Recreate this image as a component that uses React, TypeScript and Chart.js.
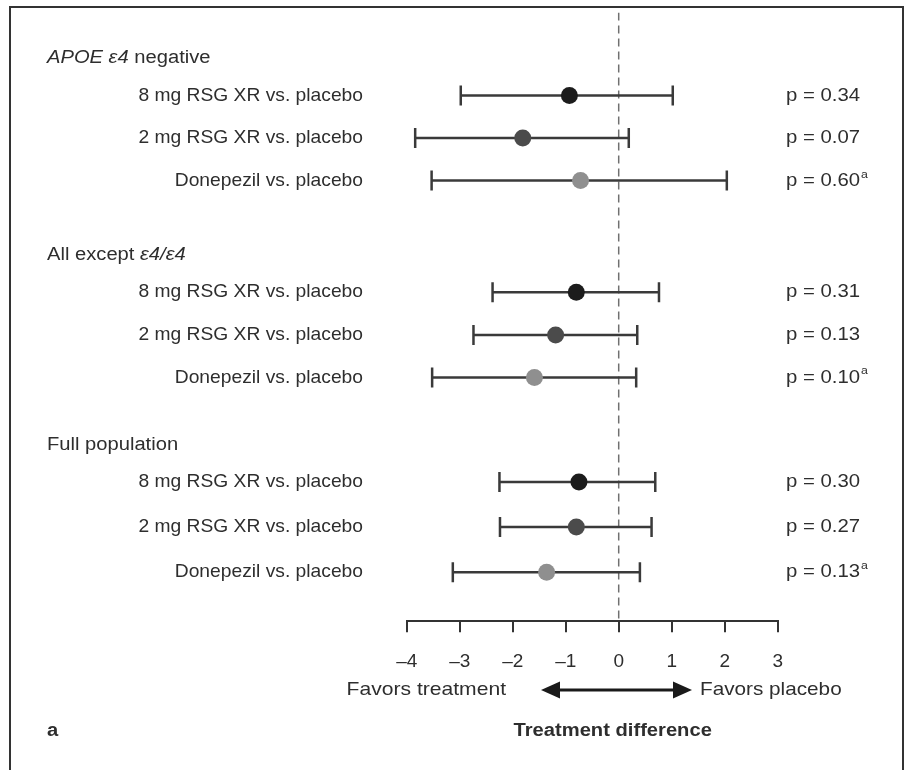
import { useEffect, useRef } from 'react';
import { Chart, registerables } from 'chart.js';

Chart.register(...registerables);

// ---------- data ----------
const groupHeaders = [
  [{ t: 'APOE ε4', i: true }, { t: ' negative', i: false }],
  [{ t: 'All except ', i: false }, { t: 'ε4/ε4', i: true }],
  [{ t: 'Full population', i: false }],
];
const comparisons = ['8 mg RSG XR vs. placebo', '2 mg RSG XR vs. placebo', 'Donepezil vs. placebo'];

// per comparison, values across the three groups
const rsg8Est = [-0.93, -0.8, -0.75];
const rsg8Lo = [-2.98, -2.38, -2.25];
const rsg8Hi = [1.02, 0.76, 0.69];
const rsg8P = ['0.34', '0.31', '0.30'];

const rsg2Est = [-1.81, -1.19, -0.8];
const rsg2Lo = [-3.84, -2.74, -2.24];
const rsg2Hi = [0.19, 0.35, 0.62];
const rsg2P = ['0.07', '0.13', '0.27'];

const donEst = [-0.72, -1.59, -1.36];
const donLo = [-3.53, -3.52, -3.13];
const donHi = [2.04, 0.33, 0.4];
const donP = ['0.60', '0.10', '0.13'];
const pFootnote = ['', '', 'a'];

const xTicks = [-4, -3, -2, -1, 0, 1, 2, 3];

// ---------- styling / layout ----------
const seriesColors = ['#1c1c1c', '#4b4b4b', '#8f8f8f'];
const ciColor = '#3a3a3a';
const textColor = '#2e2e2e';
const FONT = '"Liberation Sans", Arial, sans-serif';
const SX = 1.12;
const Y_MAX = 14.16;
const FIRST_ROW = [1.93, 6.51, 10.92];
const ROW_STEPS = [0.99, 0.99, 1.05];
const HEADER_OFFSET = 0.86;

const rowY = (g: number, i: number) => FIRST_ROW[g] + i * ROW_STEPS[g];

const est = [rsg8Est, rsg2Est, donEst];
const lo = [rsg8Lo, rsg2Lo, donLo];
const hi = [rsg8Hi, rsg2Hi, donHi];
const pv = [rsg8P, rsg2P, donP];

type Seg = { t: string; i?: boolean; b?: boolean };

function drawRich(ctx: CanvasRenderingContext2D, segs: Seg[], x: number, y: number, align: 'left' | 'right' | 'center', size: number, sx = SX) {
  const fontOf = (s: Seg) => `${s.i ? 'italic ' : ''}${s.b ? 'bold ' : ''}${size}px ${FONT}`;
  let total = 0;
  const widths = segs.map((s) => {
    ctx.font = fontOf(s);
    const w = ctx.measureText(s.t).width * sx;
    total += w;
    return w;
  });
  let cx = align === 'left' ? x : align === 'right' ? x - total : x - total / 2;
  ctx.textBaseline = 'middle';
  ctx.textAlign = 'left';
  segs.forEach((s, k) => {
    ctx.save();
    ctx.font = fontOf(s);
    ctx.translate(cx, y);
    ctx.scale(sx, 1);
    ctx.fillText(s.t, 0, 0);
    ctx.restore();
    cx += widths[k];
  });
  return cx;
}

const annotations = {
  id: 'forestText',
  afterDraw(chart: any) {
    const { ctx, scales } = chart;
    const ys = scales.y;
    const xs = scales.x;
    ctx.save();
    // frame
    ctx.strokeStyle = '#333';
    ctx.lineWidth = 2;
    ctx.beginPath();
    ctx.moveTo(10, 800);
    ctx.lineTo(10, 7);
    ctx.lineTo(903, 7);
    ctx.lineTo(903, 800);
    ctx.stroke();

    ctx.fillStyle = textColor;
    groupHeaders.forEach((segs, g) => {
      drawRich(ctx, segs, 47, ys.getPixelForValue(rowY(g, 0) - HEADER_OFFSET), 'left', 18);
      comparisons.forEach((label, i) => {
        const py = ys.getPixelForValue(rowY(g, i));
        drawRich(ctx, [{ t: label }], 363, py, 'right', 18.5, 1.04);
        const end = drawRich(ctx, [{ t: 'p = ' + pv[i][g] }], 786, py, 'left', 18.5, 1.1);
        if (pFootnote[i]) {
          drawRich(ctx, [{ t: pFootnote[i] }], end + 1, py - 6, 'left', 11);
        }
      });
    });

    // arrow
    const ay = 690;
    const x0 = 541;
    const x1 = 692;
    ctx.strokeStyle = '#1a1a1a';
    ctx.fillStyle = '#1a1a1a';
    ctx.lineWidth = 3;
    ctx.beginPath();
    ctx.moveTo(x0 + 10, ay);
    ctx.lineTo(x1 - 10, ay);
    ctx.stroke();
    ctx.beginPath();
    ctx.moveTo(x0, ay);
    ctx.lineTo(x0 + 19, ay - 8.5);
    ctx.lineTo(x0 + 19, ay + 8.5);
    ctx.closePath();
    ctx.fill();
    ctx.beginPath();
    ctx.moveTo(x1, ay);
    ctx.lineTo(x1 - 19, ay - 8.5);
    ctx.lineTo(x1 - 19, ay + 8.5);
    ctx.closePath();
    ctx.fill();

    ctx.fillStyle = textColor;
    drawRich(ctx, [{ t: 'Favors treatment' }], 506, ay, 'right', 18.5, 1.14);
    drawRich(ctx, [{ t: 'Favors placebo' }], 700, ay, 'left', 18.5, 1.12);
    drawRich(ctx, [{ t: 'Treatment difference', b: true }], xs.getPixelForValue(0) - 6, 731, 'center', 18);
    drawRich(ctx, [{ t: 'a', b: true }], 47, 731, 'left', 18);
    ctx.restore();
  },
};

export default function App() {
  const ref = useRef<HTMLCanvasElement>(null);
  useEffect(() => {
    if (!ref.current) return;
    const pointSets = est.map((vals, k) => ({
      type: 'scatter' as const,
      data: vals.map((v, g) => ({ x: v, y: rowY(g, k) })),
      pointRadius: 8.5,
      pointHoverRadius: 8.5,
      pointBorderWidth: 0,
      backgroundColor: seriesColors[k],
      borderColor: seriesColors[k],
      showLine: false,
    }));
    const zeroLine = {
      type: 'scatter' as const,
      data: [{ x: 0, y: 0 }, { x: 0, y: Y_MAX }],
      showLine: true,
      borderColor: '#707070',
      borderWidth: 1.5,
      borderDash: [8, 5],
      pointRadius: 0,
    };
    const ciSets: any[] = [];
    est.forEach((vals, k) => {
      vals.forEach((_, g) => {
        ciSets.push({
          type: 'scatter' as const,
          data: [
            { x: lo[k][g], y: rowY(g, k) },
            { x: hi[k][g], y: rowY(g, k) },
          ],
          showLine: true,
          borderColor: ciColor,
          borderWidth: 2.5,
          pointStyle: 'line',
          rotation: 90,
          pointRadius: 10,
          pointHoverRadius: 10,
          pointBorderWidth: 2.5,
          pointBorderColor: ciColor,
        });
      });
    });
    const chart = new Chart(ref.current, {
      type: 'scatter',
      data: { datasets: [...pointSets, ...ciSets, zeroLine] as any },
      options: {
        animation: false,
        responsive: false,
        events: [],
        layout: { padding: { left: 406.7, right: 128.3, top: 12, bottom: 79 } },
        plugins: { legend: { display: false }, tooltip: { enabled: false } },
        scales: {
          x: {
            type: 'linear',
            min: -4,
            max: 3,
            position: 'bottom',
            afterBuildTicks: (s: any) => {
              s.ticks = xTicks.map((v) => ({ value: v }));
            },
            ticks: {
              color: textColor,
              font: { family: FONT, size: 19 },
              padding: 18,
              callback: (v: any) => (Number(v) < 0 ? '\u2013' + Math.abs(Number(v)) : String(v)),
            },
            grid: { display: true, drawOnChartArea: false, drawTicks: true, tickLength: 11, color: '#333', lineWidth: 2 },
            border: { display: true, color: '#333', width: 2 },
          },
          y: { type: 'linear', min: 0, max: Y_MAX, reverse: true, display: false },
        },
      },
      plugins: [annotations],
    });
    return () => chart.destroy();
  }, []);
  return (
    <div style={{ position: 'absolute', left: 0, top: 0, width: 906, height: 770, background: '#fff' }}>
      <canvas ref={ref} width={906} height={770} style={{ display: 'block' }} />
    </div>
  );
}
